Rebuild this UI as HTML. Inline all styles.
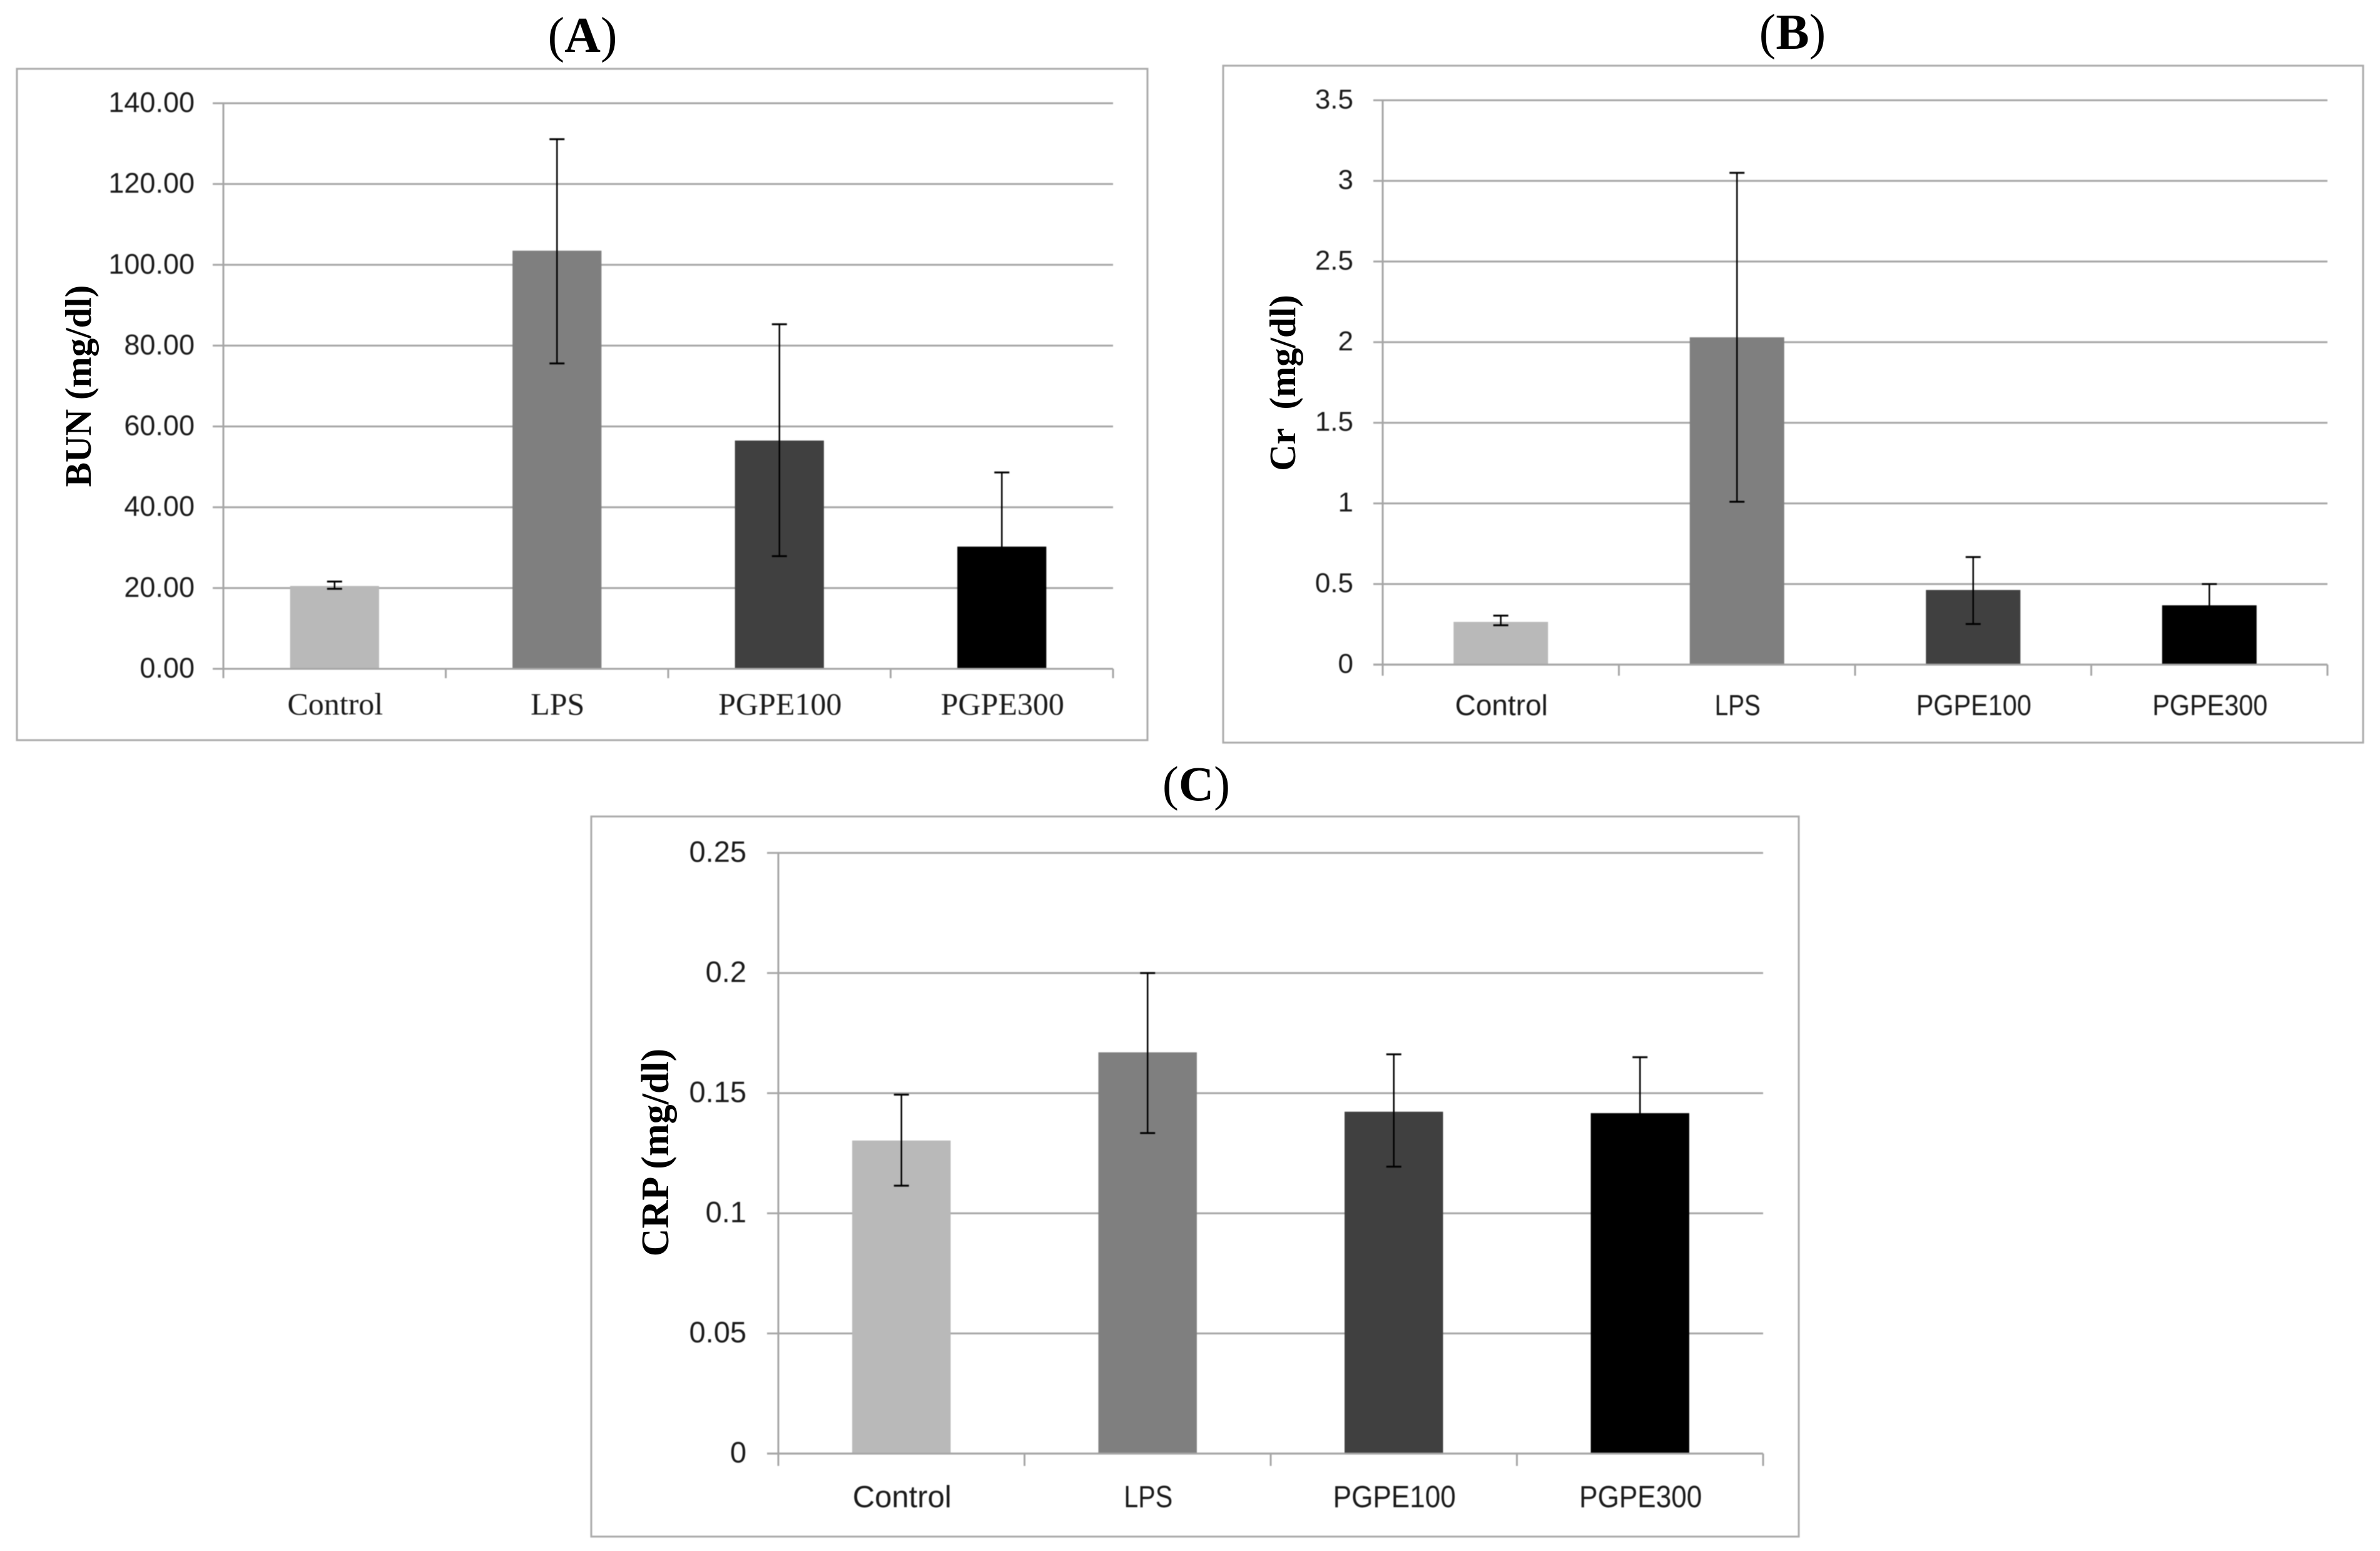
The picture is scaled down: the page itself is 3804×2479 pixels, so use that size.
<!DOCTYPE html>
<html lang="en">
<head>
<meta charset="utf-8">
<title>BUN, Cr and CRP bar charts</title>
<style>
  html, body { margin: 0; padding: 0; background: #ffffff; }
  svg { display: block; }
  .serif { font-family: "Liberation Serif", serif; }
  .sans { font-family: "Liberation Sans", sans-serif; }
  .chart { filter: blur(0.7px); }
</style>
</head>
<body>
<svg id="figure" xmlns="http://www.w3.org/2000/svg" width="3804" height="2479" viewBox="0 0 3804 2479">
  <rect x="0" y="0" width="3804" height="2479" fill="#ffffff"/>
  <text class="serif" x="931" y="83" font-size="80" text-anchor="middle" fill="#000">(<tspan font-weight="bold">A</tspan>)</text>
  <text class="serif" x="2865" y="78" font-size="80" text-anchor="middle" fill="#000">(<tspan font-weight="bold">B</tspan>)</text>
  <text class="serif" x="1912" y="1279" font-size="78" text-anchor="middle" fill="#000">(<tspan font-weight="bold">C</tspan>)</text>
  <g id="panel-a" class="chart"></g>
  <g id="panel-b" class="chart"></g>
  <g id="panel-c" class="chart"></g>
  <text class="serif" font-size="59" font-weight="bold" text-anchor="middle" fill="#000" transform="translate(145 617) rotate(-90)">BUN (mg/dl)</text>
  <text class="serif" font-size="59" font-weight="bold" text-anchor="middle" fill="#000" transform="translate(2070 612) rotate(-90)">Cr&#160;&#160;(mg/dl)</text>
  <text class="serif" font-size="62" font-weight="bold" text-anchor="middle" fill="#000" transform="translate(1068 1842) rotate(-90)">CRP (mg/dl)</text>
</svg>
<script>
const categories = ['Control', 'LPS', 'PGPE100', 'PGPE300'];
const barColors = ['#b9b9b9', '#7f7f7f', '#404040', '#000000'];

const bunTicks = [0, 20, 40, 60, 80, 100, 120, 140];
const bunTickLabels = ['0.00', '20.00', '40.00', '60.00', '80.00', '100.00', '120.00', '140.00'];
const bunValues = [20.5, 103.5, 56.5, 30.25];
const bunUpper = [21.6, 131.1, 85.3, 48.6];
const bunLower = [19.8, 75.6, 27.9, 11.9];

const crTicks = [0, 0.5, 1, 1.5, 2, 2.5, 3, 3.5];
const crTickLabels = ['0', '0.5', '1', '1.5', '2', '2.5', '3', '3.5'];
const crValues = [0.265, 2.03, 0.463, 0.368];
const crUpper = [0.304, 3.05, 0.667, 0.5];
const crLower = [0.244, 1.01, 0.252, 0.236];

const crpTicks = [0, 0.05, 0.1, 0.15, 0.2, 0.25];
const crpTickLabels = ['0', '0.05', '0.1', '0.15', '0.2', '0.25'];
const crpValues = [0.1303, 0.167, 0.1423, 0.1417];
const crpUpper = [0.1494, 0.2, 0.1662, 0.165];
const crpLower = [0.1115, 0.1334, 0.1194, 0.118];

const NS = 'http://www.w3.org/2000/svg';
const AXIS = '#a6a6a6';

function mk(parent, tag, attrs) {
  const el = document.createElementNS(NS, tag);
  for (const k in attrs) el.setAttribute(k, attrs[k]);
  parent.appendChild(el);
  return el;
}

function narrowing(name) {
  if (name === 'LPS') return 0.84;
  if (name.indexOf('PGPE') === 0) return 0.9;
  return 1;
}

function drawPanel(g, key, box, plot, ticks, tickLabels, values, upper, lower, style) {
  const maxV = ticks[ticks.length - 1];
  const yOf = v => plot.bottom - (v / maxV) * (plot.bottom - plot.top);
  const band = (plot.right - plot.left) / categories.length;
  const xOf = i => plot.left + (i + 0.5) * band;

  const frame = mk(g, 'rect', { x: box.x, y: box.y, width: box.w, height: box.h, fill: '#fff', stroke: '#ababab', 'stroke-width': 3 });
  
  

  ticks.forEach((t, i) => {
    const grid = mk(g, 'line', { x1: plot.left - plot.tickOut, x2: plot.right, y1: yOf(t), y2: yOf(t), stroke: AXIS, 'stroke-width': 3 });
    
    

    const label = mk(g, 'text', { x: plot.labelRight, y: yOf(t) + style.yLabelDrop, 'text-anchor': 'end', 'font-size': style.yFont, fill: '#1a1a1a', class: 'sans' });
    label.textContent = tickLabels[i];
    
    
  });

  const yAxis = mk(g, 'line', { x1: plot.left, x2: plot.left, y1: plot.top, y2: plot.tickBottom, stroke: AXIS, 'stroke-width': 3 });
  
  

  categories.forEach((c, i) => {
    const tickX = plot.left + (i + 1) * band;
    const tick = mk(g, 'line', { x1: tickX, x2: tickX, y1: plot.bottom, y2: plot.tickBottom, stroke: AXIS, 'stroke-width': 3 });
    
    

    const w = band * 0.4;
    const bar = mk(g, 'rect', { x: xOf(i) - w / 2, y: yOf(values[i]), width: w, height: plot.bottom - yOf(values[i]), fill: barColors[i] });
    
    
  });

  const xAxis = mk(g, 'line', { x1: plot.left - plot.tickOut, x2: plot.right, y1: plot.bottom, y2: plot.bottom, stroke: AXIS, 'stroke-width': 3 });
  
  

  categories.forEach((c, i) => {
    const stem = mk(g, 'line', { x1: xOf(i), x2: xOf(i), y1: yOf(upper[i]), y2: yOf(lower[i]), stroke: '#000', 'stroke-width': 2.5 });
    
    

    const capTop = mk(g, 'line', { x1: xOf(i) - 12, x2: xOf(i) + 12, y1: yOf(upper[i]), y2: yOf(upper[i]), stroke: '#000', 'stroke-width': 3 });
    
    

    const capBottom = mk(g, 'line', { x1: xOf(i) - 12, x2: xOf(i) + 12, y1: yOf(lower[i]), y2: yOf(lower[i]), stroke: '#000', 'stroke-width': 3 });
    
    

    const label = mk(g, 'text', { x: xOf(i) + 1, y: style.xBaseline, 'text-anchor': 'middle', 'font-size': style.xFont, fill: '#1a1a1a', class: style.xClass });
    label.textContent = c;
    
    
    if (style.xClass === 'sans') {
      label.setAttribute('lengthAdjust', 'spacingAndGlyphs');
      label.setAttribute('textLength', label.getComputedTextLength() * narrowing(c));
    }
  });
}

drawPanel(document.getElementById('panel-a'), 'bun',
  { x: 27, y: 110, w: 1807, h: 1073 },
  { left: 357, right: 1779, top: 165, bottom: 1069, tickOut: 17, tickBottom: 1084, labelRight: 311 },
  bunTicks, bunTickLabels, bunValues, bunUpper, bunLower,
  { yFont: 45, yLabelDrop: 14, xFont: 50, xBaseline: 1142, xClass: 'serif' });

drawPanel(document.getElementById('panel-b'), 'cr',
  { x: 1955, y: 105, w: 1822, h: 1082 },
  { left: 2210, right: 3720, top: 160.3, bottom: 1062.3, tickOut: 15, tickBottom: 1080, labelRight: 2163 },
  crTicks, crTickLabels, crValues, crUpper, crLower,
  { yFont: 44, yLabelDrop: 13, xFont: 46, xBaseline: 1143, xClass: 'sans' });

drawPanel(document.getElementById('panel-c'), 'crp',
  { x: 945, y: 1305, w: 1930, h: 1151 },
  { left: 1244, right: 2818, top: 1363.3, bottom: 2323.3, tickOut: 18, tickBottom: 2343, labelRight: 1193 },
  crpTicks, crpTickLabels, crpValues, crpUpper, crpLower,
  { yFont: 47, yLabelDrop: 14, xFont: 49, xBaseline: 2409, xClass: 'sans' });
</script>
</body>
</html>
